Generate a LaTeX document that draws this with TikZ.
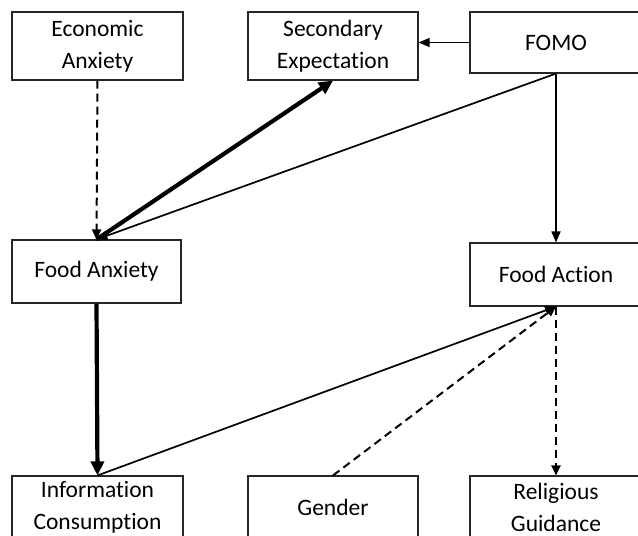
\documentclass[tikz,border=0pt]{standalone}
\usepackage{fontspec}
\setmainfont{Carlito}[Ligatures={NoCommon}]
\usetikzlibrary{arrows.meta}
\begin{document}
\begin{tikzpicture}[x=1pt,y=-1pt,
  box/.style={draw=black!85,line width=1.1pt,rectangle,inner sep=0pt,align=center,
    font=\fontsize{23.5}{32}\selectfont,text=black},
  thinarr/.style={line width=1.7pt,-{Triangle[length=11pt,width=9pt]}},
  thickarr/.style={line width=4.2pt,-{Triangle[length=14pt,width=13pt]}},
  dasharr/.style={line width=2pt,dash pattern=on 8pt off 5pt,-{Triangle[length=10pt,width=9pt]}}]
\useasboundingbox (0,0) rectangle (638,536);
\clip (0,0) rectangle (638,536);
\fill[white] (0,0) rectangle (638,536);
\node[box,minimum width=171pt,minimum height=68pt] (econ) at (97.5,46) {Economic\\Anxiety};
\node[box,minimum width=170pt,minimum height=68pt] (sec) at (333,46) {Secondary\\Expectation};
\node[box,minimum width=172pt,minimum height=61pt] (fomo) at (556,42.5) {FOMO};
\node[box,minimum width=169pt,minimum height=63pt] (foodanx) at (96.5,271.5) {Food Anxiety};
\node[box,minimum width=172pt,minimum height=63pt] (foodact) at (556,274.5) {Food Action};
\node[box,minimum width=171pt,minimum height=62pt] (info) at (97.5,507) {Information\\Consumption};
\node[box,minimum width=170pt,minimum height=62pt] (gender) at (333,507) {Gender};
\node[box,minimum width=172pt,minimum height=62pt] (relig) at (556,507) {Religious\\Guidance};
\coordinate (fa) at (foodanx.north);
\coordinate (fac) at (foodact.south);
\draw[dasharr] (econ.south) -- (fa);
\draw[thinarr] (fomo.south) -- (fa);
\draw[thickarr] (fa) -- (sec.south);
\draw[thinarr] (fomo.west) -- (sec.east |- fomo.west);
\draw[thinarr] (fomo.south) -- (foodact.north);
\draw[thickarr] (foodanx.south) -- (info.north);
\draw[dasharr] (gender.north) -- (fac);
\draw[thinarr] (info.north) -- (fac);
\draw[dasharr] (fac) -- (relig.north);
\end{tikzpicture}
\end{document}
